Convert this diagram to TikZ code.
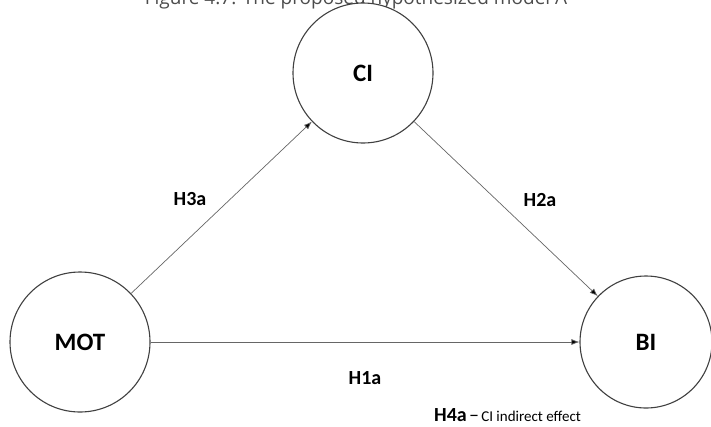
\documentclass[tikz,border=0pt]{standalone}
\usepackage{fontspec}
\setmainfont{Carlito}
\newfontfamily\titlefont{Open Sans}
\usetikzlibrary{arrows.meta, positioning}

\tikzset{
  construct/.style={
    circle,
    draw=black!75,
    line width=1.1pt,
    fill=white,
    minimum size=140pt,
    inner sep=0pt,
    font=\fontsize{25}{30}\selectfont\bfseries
  },
  path/.style={
    draw=black!60,
    line width=0.7pt,
    -{Latex[length=8pt,width=6pt,fill=black]}
  },
  hyp/.style={
    font=\fontsize{20}{24}\selectfont\bfseries
  }
}

\begin{document}
\begin{tikzpicture}[x=1pt, y=-1pt]
  \useasboundingbox (0,0) rectangle (711,426);

  % Title (cut off at the top)
  \node[anchor=base, inner sep=0pt, font=\titlefont\fontsize{19}{22}\selectfont, text=black!70] (title) at (356,4) {Figure 4.7: The proposed hypothesized model A};

  % Constructs
  \node[construct] (mot) at (80,342) {MOT};
  \node[construct] (ci) at (363,73) {CI};
  \node[construct, minimum size=132pt] (bi) at (646,342) {BI};

  % Paths
  \draw[path] (mot) -- (ci);
  \draw[path] (ci) -- (bi);
  \draw[path] (mot) -- (bi);

  % Hypotheses
  \node[hyp] (h3a) at (190,199) {H3a};
  \node[hyp] (h2a) at (540,200) {H2a};
  \node[hyp] (h1a) at (365,378) {H1a};
  \node[anchor=west, inner sep=0pt] (h4a) at (434,415) {{\fontsize{20}{24}\selectfont\bfseries H4a} {\fontsize{20}{22}\selectfont --} {\fontsize{15}{18}\selectfont CI indirect effect}};
\end{tikzpicture}
\end{document}
